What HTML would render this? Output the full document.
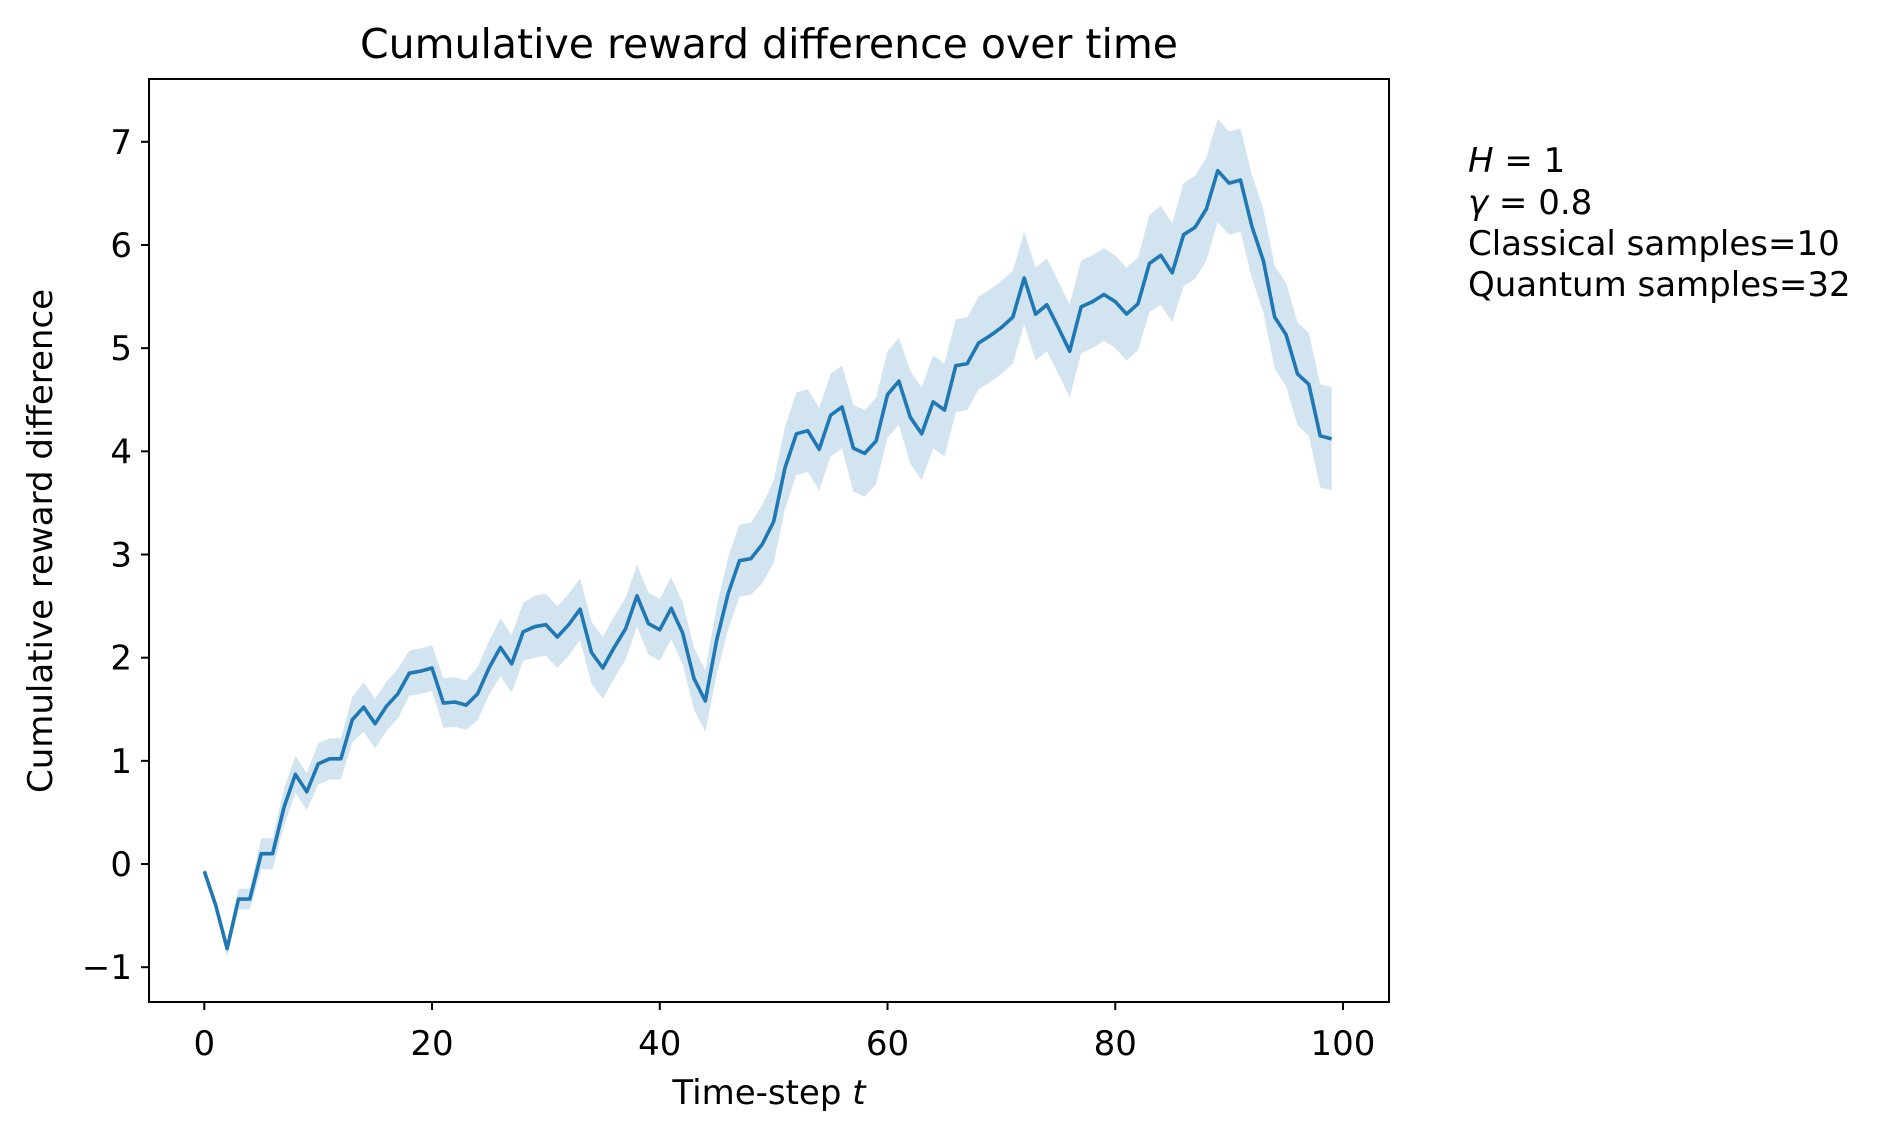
<!DOCTYPE html>
<html><head><meta charset="utf-8">
<style>
html,body{margin:0;padding:0;background:#fff;}
svg{display:block;font-family:"DejaVu Sans","Liberation Sans",sans-serif;}
</style></head>
<body>
<svg id="chart" width="1884" height="1138" viewBox="0 0 1884 1138">
  <text x="769" y="58" text-anchor="middle" font-size="41" fill="#000">Cumulative reward difference over time</text>
  <g id="plot"></g>
  <rect x="149" y="79" width="1240" height="923" fill="none" stroke="#000" stroke-width="2"/>
  <g id="xticks"></g>
  <g id="yticks"></g>
  <text x="769" y="1104" text-anchor="middle" font-size="34">Time-step <tspan font-style="italic">t</tspan></text>
  <text transform="translate(52,541) rotate(-90)" text-anchor="middle" font-size="34">Cumulative reward difference</text>
  <g font-size="34">
    <text x="1468" y="172"><tspan font-style="italic">H</tspan> = 1</text>
    <text x="1468" y="214"><tspan font-style="italic">γ</tspan> = 0.8</text>
    <text x="1468" y="255">Classical samples=10</text>
    <text x="1468" y="296">Quantum samples=32</text>
  </g>
</svg>
<script>
const meanValues = [-0.07,-0.4,-0.82,-0.34,-0.34,0.1,0.1,0.55,0.87,0.7,0.97,1.02,1.02,1.4,1.52,1.36,1.53,1.65,1.85,1.87,1.9,1.56,1.57,1.54,1.65,1.9,2.1,1.94,2.25,2.3,2.32,2.2,2.32,2.47,2.05,1.9,2.1,2.28,2.6,2.33,2.27,2.48,2.24,1.8,1.58,2.17,2.62,2.94,2.96,3.1,3.32,3.84,4.17,4.2,4.02,4.35,4.43,4.03,3.98,4.1,4.55,4.68,4.33,4.17,4.48,4.4,4.83,4.85,5.05,5.12,5.2,5.3,5.68,5.33,5.42,5.2,4.97,5.4,5.45,5.52,5.45,5.33,5.43,5.82,5.9,5.73,6.1,6.17,6.35,6.72,6.6,6.63,6.18,5.85,5.3,5.13,4.75,4.65,4.15,4.12];
const bandWidth = [0.02,0.05,0.08,0.1,0.1,0.15,0.15,0.18,0.18,0.18,0.2,0.2,0.2,0.22,0.24,0.24,0.24,0.24,0.22,0.22,0.22,0.24,0.24,0.24,0.26,0.26,0.28,0.28,0.28,0.3,0.3,0.3,0.3,0.3,0.3,0.3,0.3,0.3,0.3,0.3,0.3,0.3,0.3,0.3,0.3,0.33,0.35,0.35,0.35,0.38,0.4,0.4,0.4,0.4,0.4,0.4,0.4,0.42,0.42,0.42,0.42,0.42,0.45,0.45,0.45,0.45,0.45,0.45,0.45,0.45,0.45,0.45,0.45,0.45,0.45,0.45,0.45,0.45,0.45,0.45,0.45,0.45,0.45,0.47,0.48,0.48,0.5,0.5,0.5,0.5,0.5,0.5,0.5,0.5,0.5,0.5,0.5,0.5,0.5,0.5];
const xTickValues = [0,20,40,60,80,100];
const yTickValues = [-1,0,1,2,3,4,5,6,7];
const yTickLabels = ["\u22121","0","1","2","3","4","5","6","7"];

const NS = "http://www.w3.org/2000/svg";
const xScale = v => 204.3 + (v - 0) * (1343 - 204.3) / 100;
const yScale = v => 967.2 - (v + 1) * (967.2 - 141.8) / 8;

const plot = document.getElementById('plot');
let up = [], lo = [];
meanValues.forEach((m, i) => {
  up.push(xScale(i).toFixed(1) + ',' + yScale(m + bandWidth[i]).toFixed(1));
  lo.unshift(xScale(i).toFixed(1) + ',' + yScale(m - bandWidth[i]).toFixed(1));
});
const band = document.createElementNS(NS, 'polygon');
band.setAttribute('points', up.concat(lo).join(' '));
band.setAttribute('fill', '#1f77b4');
band.setAttribute('fill-opacity', '0.2');


plot.appendChild(band);

const line = document.createElementNS(NS, 'polyline');
line.setAttribute('points', meanValues.map((m, i) => xScale(i).toFixed(1) + ',' + yScale(m).toFixed(1)).join(' '));
line.setAttribute('fill', 'none');
line.setAttribute('stroke', '#1f77b4');
line.setAttribute('stroke-width', '3.6');
line.setAttribute('stroke-linejoin', 'round');


plot.appendChild(line);

const xg = document.getElementById('xticks');
xTickValues.forEach(v => {
  const x = xScale(v);
  const t = document.createElementNS(NS, 'line');
  t.setAttribute('x1', x); t.setAttribute('x2', x);
  t.setAttribute('y1', 1002); t.setAttribute('y2', 1010);
  t.setAttribute('stroke', '#000'); t.setAttribute('stroke-width', '2');
  
  
  xg.appendChild(t);
  const l = document.createElementNS(NS, 'text');
  l.setAttribute('x', x); l.setAttribute('y', 1055);
  l.setAttribute('text-anchor', 'middle'); l.setAttribute('font-size', '34');
  l.textContent = v;
  
  
  xg.appendChild(l);
});
const yg = document.getElementById('yticks');
yTickValues.forEach((v, i) => {
  const y = yScale(v);
  const t = document.createElementNS(NS, 'line');
  t.setAttribute('x1', 141); t.setAttribute('x2', 149);
  t.setAttribute('y1', y); t.setAttribute('y2', y);
  t.setAttribute('stroke', '#000'); t.setAttribute('stroke-width', '2');
  
  
  yg.appendChild(t);
  const l = document.createElementNS(NS, 'text');
  l.setAttribute('x', 132); l.setAttribute('y', y + 12);
  l.setAttribute('text-anchor', 'end'); l.setAttribute('font-size', '34');
  l.textContent = yTickLabels[i];
  
  
  yg.appendChild(l);
});
</script>
</body></html>
